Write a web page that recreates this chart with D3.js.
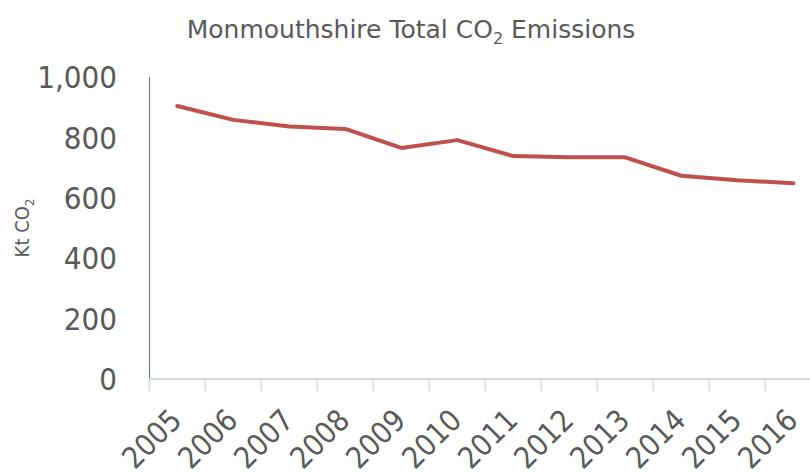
<!DOCTYPE html>
<html>
<head>
<meta charset="utf-8">
<script src="https://cdn.jsdelivr.net/npm/d3@7"></script>
<style>
  body { margin: 0; background: #fff; }
  text { font-family: "DejaVu Sans Condensed", "DejaVu Sans", sans-serif; fill: #595959; }
</style>
</head>
<body>
<script>
var svg_width  = 810;
var svg_height = 475;

// data
var years  = ["2005", "2006", "2007", "2008", "2009", "2010",
              "2011", "2012", "2013", "2014", "2015", "2016"];
var totals = [904, 858, 836, 828, 765, 791, 738, 734, 734, 673, 658, 648];
var yTicks = [0, 200, 400, 600, 800, 1000];

var svg = d3.select('body').append('svg')
            .attr('width', svg_width)
            .attr('height', svg_height);

// plot area runs past the right edge, like the original crop
var x = d3.scaleBand()
          .domain(years)
          .range([149.3, 821.3]);

var y = d3.scaleLinear()
          .domain([0, 1000])
          .range([379, 77]);

// title
var title = svg.append("text")
   .attr("x", 411)
   .attr("y", 38)
   .attr("text-anchor", "middle")
   .style("font-family", "'DejaVu Sans', sans-serif")
   .style("font-size", "25px");
title.append("tspan").text("Monmouthshire Total CO");
title.append("tspan").attr("dy", 6).style("font-size", "16px").text("2");
title.append("tspan").attr("dy", -6).text(" Emissions");

// y axis title
var ytitle = svg.append("text")
   .attr("transform", "translate(29,228) rotate(-90)")
   .attr("text-anchor", "middle")
   .style("font-size", "20px");
ytitle.append("tspan").text("Kt CO");
ytitle.append("tspan").attr("dy", 5).style("font-size", "13px").text("2");

// y axis labels (no ticks, blue line)
svg.append("g").selectAll("text")
   .data(yTicks)
   .enter().append("text")
   .attr("x", 117)
   .attr("y", d => y(d))
   .attr("dy", "0.36em")
   .attr("text-anchor", "end")
   .style("font-size", "31px")
   .text(d => d3.format(",")(d));

svg.append("line")
   .attr("x1", 149.5).attr("x2", 149.5)
   .attr("y1", y(1000)).attr("y2", y(0))
   .attr("stroke", "#4472c4")
   .attr("stroke-width", 1);

// x axis: baseline + tick marks at band edges
svg.append("line")
   .attr("x1", 149).attr("x2", svg_width)
   .attr("y1", y(0)).attr("y2", y(0))
   .attr("stroke", "#d9d9d9")
   .attr("stroke-width", 2);

svg.append("g").selectAll("line")
   .data(years)
   .enter().append("line")
   .attr("x1", d => x(d)).attr("x2", d => x(d))
   .attr("y1", y(0)).attr("y2", 391)
   .attr("stroke", "#d9d9d9")
   .attr("stroke-width", 1.5);

svg.append("g").selectAll("text")
   .data(years)
   .enter().append("text")
   .attr("transform", d => "translate(" + (x(d) + x.bandwidth()/2 + 6) + ",422) rotate(-45)")
   .attr("text-anchor", "end")
   .style("font-size", "30px")
   .text(d => d);

// the line
var line = d3.line()
   .x((d, i) => x(years[i]) + x.bandwidth()/2)
   .y(d => y(d));

svg.append("path")
   .datum(totals)
   .attr("d", line)
   .attr("fill", "none")
   .attr("stroke", "#c0504d")
   .attr("stroke-width", 4)
   .attr("stroke-linejoin", "round")
   .attr("stroke-linecap", "round");
</script>
</body>
</html>
